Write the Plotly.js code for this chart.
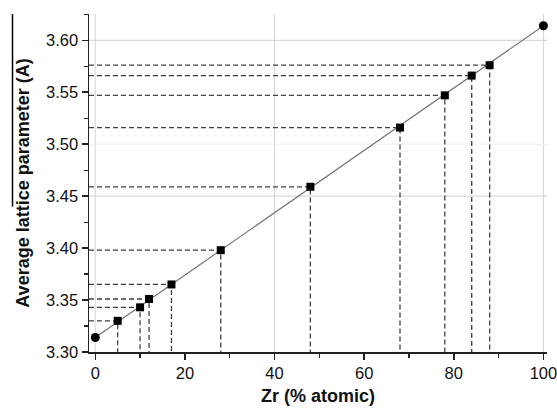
<!DOCTYPE html>
<html>
<head>
<meta charset="utf-8">
<script src="https://cdn.plot.ly/plotly-3.0.1.min.js"></script>
<style>html,body{margin:0;padding:0;background:#fff;}#chart{width:557px;height:414px;}</style>
</head>
<body>
<div id="chart"></div>
<script>
// Data
const endX = [0, 100];
const endY = [3.314, 3.614];
const zrX = [5, 10, 12, 17, 28, 48, 68, 78, 84, 88];
const latticeY = [3.330, 3.343, 3.351, 3.365, 3.398, 3.459, 3.516, 3.547, 3.566, 3.576];
const xTicks = [0, 20, 40, 60, 80, 100];
const yTicks = [3.30, 3.35, 3.40, 3.45, 3.50, 3.55, 3.60];
const gridX = [0, 40, 100];
const gridY = [3.45, 3.50, 3.60];

const xRange = [-1.4, 100.8];
const yRange = [3.30, 3.6253];

const traces = [];
// dashed guide lines
zrX.forEach((x, i) => {
  traces.push({
    x: [xRange[0], x, x], y: [latticeY[i], latticeY[i], yRange[0]],
    mode: 'lines', line: {color: '#404040', width: 1.3, dash: '5px,3px'},
    hoverinfo: 'skip', showlegend: false
  });
});
// Vegard line
traces.push({x: endX, y: endY, mode: 'lines', line: {color: '#6e6e6e', width: 1.1}, showlegend: false});
traces.push({x: zrX, y: latticeY, mode: 'markers', marker: {symbol: 'square', size: 8, color: '#000'}, showlegend: false});
traces.push({x: endX, y: endY, mode: 'markers', marker: {symbol: 'circle', size: 9, color: '#000'}, showlegend: false, cliponaxis: false});

const shapes = [];
gridX.forEach(g => shapes.push({type: 'line', xref: 'x', yref: 'paper', x0: g, x1: g, y0: 0, y1: 1, line: {color: '#d4d4d4', width: 1}, layer: 'below'}));
gridY.forEach(g => shapes.push({type: 'line', xref: 'paper', yref: 'y', x0: 0, x1: 1, y0: g, y1: g, line: {color: g === 3.50 ? '#eeeeee' : '#cfcfcf', width: 1}, layer: 'below'}));
// left border artifact of the figure
shapes.push({type: 'line', xref: 'paper', yref: 'paper', x0: -0.167, x1: -0.167, y0: 0.43, y1: 1, line: {color: '#000', width: 1.5}});

const tickFont = {family: 'Arial, Liberation Sans, sans-serif', size: 16.5, color: '#111'};
const titleFont = {family: 'Arial, Liberation Sans, sans-serif', size: 18, color: '#111'};
const layout = {
  width: 557, height: 414,
  margin: {l: 89, r: 10, t: 14, b: 62},
  paper_bgcolor: '#fff', plot_bgcolor: '#fff',
  shapes: shapes,
  xaxis: {
    range: xRange, tickvals: xTicks, ticktext: xTicks.map(String),
    showgrid: false, zeroline: false, showline: true, linecolor: '#222', linewidth: 1.5,
    ticks: 'outside', ticklen: 6, tickwidth: 1.5, tickcolor: '#222',
    minor: {dtick: 10, tick0: 0, ticks: 'outside', ticklen: 4, tickwidth: 1.2, tickcolor: '#222', showgrid: false},
    tickfont: tickFont, ticklabeloverflow: 'allow', automargin: false,
    title: {text: '<b>Zr (% atomic)</b>', font: titleFont, standoff: 8}
  },
  yaxis: {
    range: yRange, tickvals: yTicks, ticktext: yTicks.map(v => v.toFixed(2)),
    showgrid: false, zeroline: false, showline: true, linecolor: '#222', linewidth: 1.5,
    ticks: 'outside', ticklen: 6, tickwidth: 1.5, tickcolor: '#222',
    minor: {dtick: 0.025, tick0: 3.30, ticks: 'outside', ticklen: 4, tickwidth: 1.2, tickcolor: '#222', showgrid: false},
    tickfont: tickFont,
    title: {text: '<b>Average lattice parameter (A)</b>', font: titleFont, standoff: 12}
  }
};
Plotly.newPlot('chart', traces, layout, {displayModeBar: false, staticPlot: true});
</script>
</body>
</html>
